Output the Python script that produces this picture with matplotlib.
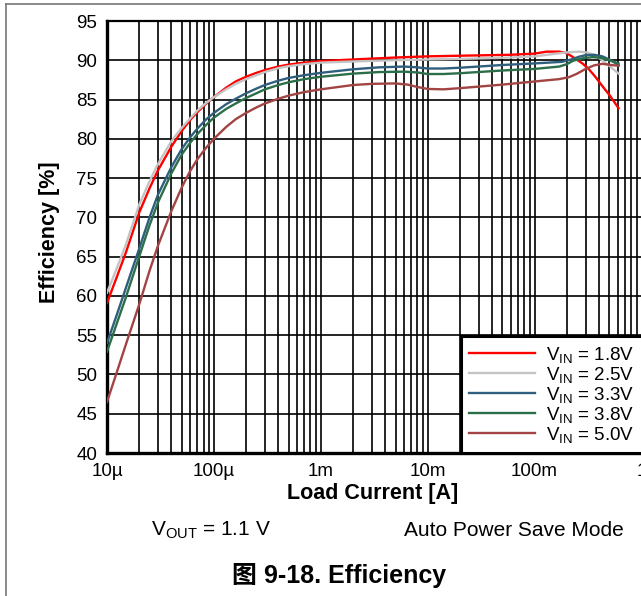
import matplotlib
matplotlib.use("Agg")
import matplotlib.pyplot as plt
from matplotlib.lines import Line2D
from matplotlib.ticker import FixedLocator, LogLocator, NullFormatter

plt.rcParams['font.family'] = ['Liberation Sans', 'Noto Sans CJK SC', 'DejaVu Sans']
plt.rcParams['mathtext.fontset'] = 'custom'
plt.rcParams['mathtext.rm'] = 'Liberation Sans'
plt.rcParams['mathtext.it'] = 'Liberation Sans:italic'
plt.rcParams['mathtext.bf'] = 'Liberation Sans:bold'

# load current [A] and efficiency [%]
i_18 = [1e-5, 1.25e-5, 1.5e-5, 2e-5, 2.5e-5, 3e-5, 4e-5, 5e-5, 6e-5, 7e-5, 8.5e-5, 1e-4, 1.3e-4,
        1.6e-4, 2e-4, 2.5e-4, 3e-4, 4e-4, 5e-4, 7e-4, 1e-3, 2e-3, 5e-3, 1e-2, 2.4e-2, 0.06, 0.1,
        0.13, 0.17, 0.2, 0.235, 0.28, 0.32, 0.37, 0.42, 0.5, 0.61]
e_18 = [59.1, 62.6, 65.5, 70.6, 73.7, 76.0, 79.0, 81.0, 82.4, 83.4, 84.5, 85.3, 86.5,
        87.3, 87.9, 88.4, 88.75, 89.2, 89.45, 89.7, 89.9, 90.1, 90.35, 90.5, 90.6, 90.7, 90.85,
        91.1, 91.1, 90.9, 90.3, 89.6, 88.9, 87.9, 86.9, 85.6, 83.9]

i_25 = [1e-5, 1.25e-5, 1.5e-5, 2e-5, 2.5e-5, 3e-5, 4e-5, 5e-5, 6e-5, 7e-5, 8.5e-5, 1e-4, 1.3e-4,
        1.6e-4, 2e-4, 2.5e-4, 3e-4, 4e-4, 5e-4, 7e-4, 1e-3, 2e-3, 5e-3, 1e-2, 2.4e-2, 0.06, 0.1,
        0.15, 0.2, 0.26, 0.31, 0.36, 0.42, 0.5, 0.61]
e_25 = [60.4, 63.7, 66.5, 71.6, 74.6, 76.8, 79.7, 81.4, 82.6, 83.6, 84.6, 85.3, 86.3,
        87.0, 87.6, 88.1, 88.5, 89.0, 89.25, 89.5, 89.7, 89.85, 90.0, 90.1, 90.2, 90.35, 90.5,
        90.8, 91.0, 91.1, 91.0, 90.65, 90.1, 89.3, 88.3]

i_33 = [1e-5, 1.25e-5, 1.5e-5, 2e-5, 2.5e-5, 3e-5, 4e-5, 5e-5, 6e-5, 7e-5, 8.5e-5, 1e-4, 1.3e-4,
        1.6e-4, 2e-4, 2.5e-4, 3e-4, 4e-4, 5e-4, 7e-4, 1e-3, 2e-3, 3.5e-3, 6e-3, 8e-3, 1e-2, 1.4e-2,
        2e-2, 5e-2, 0.1, 0.18, 0.22, 0.26, 0.3, 0.36, 0.43, 0.5, 0.61]
e_33 = [54.0, 57.8, 61.0, 66.0, 70.0, 72.9, 76.4, 78.7, 80.2, 81.3, 82.5, 83.3, 84.4,
        85.1, 85.8, 86.4, 86.85, 87.4, 87.75, 88.1, 88.4, 88.85, 89.1, 89.2, 89.1, 88.95, 88.95,
        89.05, 89.4, 89.6, 89.8, 90.1, 90.45, 90.65, 90.7, 90.5, 90.1, 89.4]

i_38 = [1e-5, 1.25e-5, 1.5e-5, 2e-5, 2.5e-5, 3e-5, 4e-5, 5e-5, 6e-5, 7e-5, 8.5e-5, 1e-4, 1.3e-4,
        1.6e-4, 2e-4, 2.5e-4, 3e-4, 4e-4, 5e-4, 7e-4, 1e-3, 2e-3, 3.5e-3, 6e-3, 8e-3, 1e-2, 1.4e-2,
        2e-2, 5e-2, 0.1, 0.17, 0.2, 0.23, 0.28, 0.35, 0.42, 0.5, 0.61]
e_38 = [52.9, 56.7, 59.8, 65.0, 69.0, 71.9, 75.6, 78.0, 79.5, 80.6, 81.8, 82.7, 83.8,
        84.5, 85.2, 85.8, 86.3, 86.85, 87.2, 87.6, 87.9, 88.3, 88.5, 88.55, 88.45, 88.25, 88.25,
        88.35, 88.7, 88.9, 89.2, 89.5, 89.95, 90.25, 90.4, 90.3, 90.0, 89.6]

i_50 = [1e-5, 1.25e-5, 1.5e-5, 2e-5, 2.5e-5, 3e-5, 4e-5, 5e-5, 6e-5, 7e-5, 8.5e-5, 1e-4, 1.3e-4,
        1.6e-4, 2e-4, 2.5e-4, 3e-4, 4e-4, 5e-4, 7e-4, 1e-3, 2e-3, 3e-3, 5e-3, 6.5e-3, 8e-3, 1e-2,
        1.4e-2, 2e-2, 5e-2, 0.1, 0.17, 0.21, 0.25, 0.3, 0.36, 0.43, 0.52, 0.61]
e_50 = [46.5, 50.5, 53.8, 58.9, 63.2, 66.4, 70.8, 73.8, 75.9, 77.4, 78.9, 80.0, 81.5,
        82.5, 83.3, 84.0, 84.5, 85.1, 85.5, 85.95, 86.3, 86.85, 87.0, 87.05, 86.9, 86.6, 86.35,
        86.3, 86.45, 86.9, 87.3, 87.6, 87.85, 88.3, 88.9, 89.35, 89.55, 89.4, 89.3]

series = [
    (i_18, e_18, '1.8V', '#ff0000'),
    (i_25, e_25, '2.5V', '#c4c4c4'),
    (i_33, e_33, '3.3V', '#2f5f7c'),
    (i_38, e_38, '3.8V', '#2b6e4a'),
    (i_50, e_50, '5.0V', '#a24444'),
]

x_ticks = [1e-5, 1e-4, 1e-3, 1e-2, 1e-1, 1]
x_labels = ['10µ', '100µ', '1m', '10m', '100m', '1']
y_ticks = [40, 45, 50, 55, 60, 65, 70, 75, 80, 85, 90, 95]

W, H = 641, 596
fig = plt.figure(figsize=(W / 100, H / 100), dpi=100)
ax = fig.add_axes([107 / W, (H - 453) / H, 534.5 / W, 432 / H])

for cur, eff, lab, col in series:
    ax.plot(cur, eff, color=col, lw=1.7, label=r'V$_{\mathrm{IN}}$ = ' + lab, zorder=3,
            solid_joinstyle='round')

ax.set_xscale('log')
ax.set_xlim(1e-5, 1)
ax.set_ylim(40, 95)
ax.xaxis.set_major_locator(FixedLocator(x_ticks))
ax.set_xticklabels(x_labels)
ax.xaxis.set_minor_locator(LogLocator(base=10, subs=range(2, 10), numticks=20))
ax.xaxis.set_minor_formatter(NullFormatter())
ax.set_yticks(y_ticks)
ax.tick_params(which='both', length=0, labelsize=13.5)
ax.tick_params(axis='y', pad=7)
ax.tick_params(axis='x', pad=7.5)

ax.grid(True, which='both', axis='x', color='black', lw=1.2)
ax.grid(True, which='major', axis='y', color='black', lw=1.2)
ax.set_axisbelow(True)
for s in ['left', 'bottom']:
    ax.spines[s].set_linewidth(2.4)
ax.spines['top'].set_linewidth(1.6)
ax.spines['right'].set_visible(False)

leg = ax.legend(loc='lower left', bbox_to_anchor=(0.662, 0.0, 0.4, 0.27), mode='expand',
                fontsize=13.5, handlelength=3.5, handletextpad=0.6, labelspacing=0.0,
                borderpad=0.45, borderaxespad=0, fancybox=False, framealpha=1)
leg.get_frame().set_edgecolor('black')
leg.get_frame().set_linewidth(2.2)
for h in leg.get_lines():
    h.set_linewidth(1.7)

fig.text(50 / W, 1 - 232 / H, 'Efficiency [%]', rotation=90, ha='center', va='center',
         fontsize=15.5, fontweight='bold')
fig.text(373 / W, 1 - 494 / H, 'Load Current [A]', ha='center', va='center',
         fontsize=15.5, fontweight='bold')
fig.text(211 / W, 1 - 530 / H, r'V$_{\mathrm{OUT}}$ = 1.1 V', ha='center', va='center', fontsize=15)
fig.text(514 / W, 1 - 530 / H, 'Auto Power Save Mode', ha='center', va='center', fontsize=15)
fig.text(339 / W, 1 - 575 / H, '图 9-18. Efficiency', ha='center', va='center',
         fontsize=18, fontweight='bold')

# outer frame of the page figure
fig.add_artist(Line2D([6 / W, 1], [1 - 4 / H, 1 - 4 / H], transform=fig.transFigure, color='#777777', lw=1.2))
fig.add_artist(Line2D([6 / W, 6 / W], [0, 1 - 4 / H], transform=fig.transFigure, color='#777777', lw=1.2))

fig.savefig('out.png', dpi=100)
